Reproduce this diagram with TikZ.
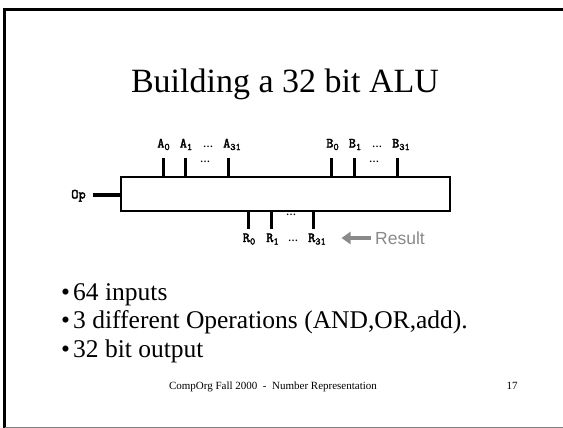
\documentclass[tikz,border=0pt]{standalone}
\usepackage{fontspec}
\setmainfont{Liberation Serif}
\newfontfamily\arialf{Liberation Sans}
\newfontfamily\courb{Latin Modern Mono}[FakeBold=2.5]
\usetikzlibrary{arrows.meta}
\definecolor{resgray}{HTML}{8A8A8A}
\newcommand{\sbx}[1]{\raisebox{-2.5pt}{\fontsize{10}{10}\selectfont #1}}
\begin{document}
\begin{tikzpicture}[x=1pt,y=-1pt,
  lbl/.style={font=\courb\fontsize{14}{14}\selectfont, inner sep=0pt, anchor=base},
  dots/.style={font=\bfseries\fontsize{10}{10}\selectfont, inner sep=0pt, anchor=base},
  pinline/.style={line width=3pt},
  bul/.style={font=\fontsize{25.5}{25.5}\selectfont, inner sep=0pt, anchor=base west}]
\path[use as bounding box] (0,0) rectangle (563,428);
% slide frame
\draw[line width=2.2pt] (4.5,428) -- (4.5,9.5) -- (563,9.5);
\draw[gray, line width=1pt] (4.5,427) -- (563,427);
% title
\node[font=\fontsize{34}{34}\selectfont, inner sep=0pt, anchor=base] (title) at (285,93) {Building a 32 bit ALU};
% ALU box
\node[draw, line width=2pt, minimum width=329pt, minimum height=34pt, inner sep=0pt, anchor=north west] (alu) at (120,176) {};
% inputs
\foreach \n/\x in {A0/163.3,A1/185.3,A31/228.3,B0/331.7,B1/354.3,B31/397.3}{
  \coordinate (p\n) at (\x,158);
  \draw[pinline] (p\n) -- (p\n |- alu.north);
}
\node[lbl] (lA0) at (163.5,147.5) {A\sbx{0}};
\node[lbl] (lA1) at (186,147.5) {A\sbx{1}};
\node[dots] (dA) at (208,147) {…};
\node[lbl] (lA31) at (232,147.5) {A\sbx{31}};
\node[dots] (dA2) at (205,163) {…};
\node[lbl] (lB0) at (332.5,147.5) {B\sbx{0}};
\node[lbl] (lB1) at (355,147.5) {B\sbx{1}};
\node[dots] (dB) at (377,147) {…};
\node[lbl] (lB31) at (401,147.5) {B\sbx{31}};
\node[dots] (dB2) at (374,163) {…};
% R outputs
\foreach \n/\x in {R0/248.3,R1/271.7,R31/313.3}{
  \coordinate (p\n) at (\x,229);
  \draw[pinline] (p\n |- alu.south) -- (p\n);
}
\node[lbl] (lR0) at (249,242) {R\sbx{0}};
\node[lbl] (lR1) at (272.5,242) {R\sbx{1}};
\node[dots] (dR) at (293,241.5) {…};
\node[lbl] (lR31) at (317,242) {R\sbx{31}};
\node[dots] (dR2) at (291,215) {…};
% Op
\node[lbl] (op) at (78.5,198.5) {Op};
\coordinate (opend) at (92.5,195);
\draw[line width=4.5pt] (opend) -- (opend -| alu.west);
% Result
\node[font=\arialf\fontsize{17.5}{17.5}\selectfont, text=resgray, inner sep=0pt, anchor=base west] (res) at (375,244) {Result};
\coordinate (arrtip) at (341.5,238);
\draw[resgray, line width=4pt, -{Triangle[length=9pt,width=12pt]}] ([xshift=-4pt]res.west |- arrtip) -- (arrtip);
% bullets
\node[bul] (m1) at (61,300) {\textbullet};
\node[bul] (b1) at (73,300) {64 inputs};
\node[bul] (m2) at (61,328.5) {\textbullet};
\node[bul] (b2) at (73,328.5) {3 different Operations (AND,OR,add).};
\node[bul] (m3) at (61,357) {\textbullet};
\node[bul] (b3) at (73,357) {32 bit output};
% footer
\node[font=\fontsize{11}{11}\selectfont, inner sep=0pt, anchor=base] (foot) at (273,389) {CompOrg Fall 2000\ \ -\ \ Number Representation};
\node[font=\fontsize{11}{11}\selectfont, inner sep=0pt, anchor=base] (pg) at (512,389) {17};
\end{tikzpicture}
\end{document}
